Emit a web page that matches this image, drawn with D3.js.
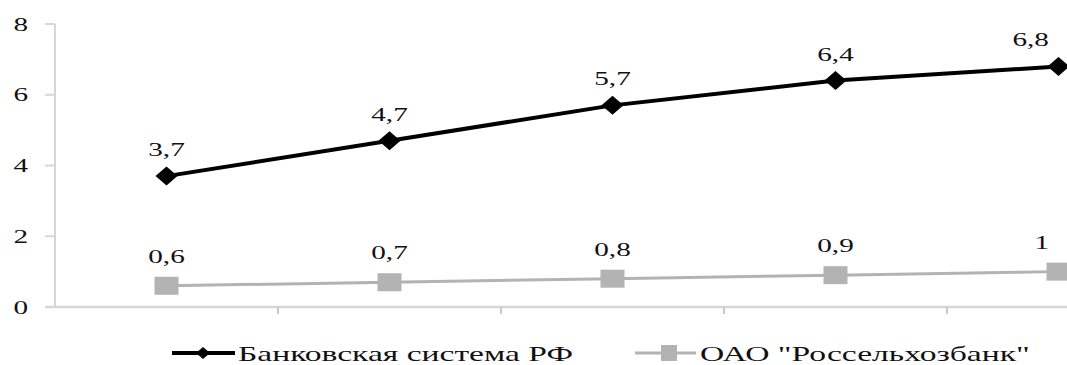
<!DOCTYPE html>
<html>
<head>
<meta charset="utf-8">
<script src="https://cdn.jsdelivr.net/npm/d3@7"></script>
<style>
  html, body { margin: 0; padding: 0; background: #fff; }
  svg { display: block; }
</style>
</head>
<body>
<svg id="chart" width="1067" height="365"></svg>
<script>
// Periods along the horizontal axis (axis labels are not shown on this chart)
const periods = ["I", "II", "III", "IV", "V"];
// Series values
const bankSystem = [3.7, 4.7, 5.7, 6.4, 6.8];
const rosselkhozbank = [0.6, 0.7, 0.8, 0.9, 1];
const seriesNames = ["Банковская система РФ", "ОАО \"Россельхозбанк\""];
const yTicks = [0, 2, 4, 6, 8];

const W = 1067, H = 365;
const svg = d3.select("#chart");
const FONT_FAMILY = "Liberation Serif";
const TEXT_COLOR = "#111";
const STRETCH = 1.5;   // glyphs are drawn wide
const LEGEND_STRETCH = 1.6;
const FONT = 19.5;

// Plot area: the last band runs past the right edge of the picture
const x = d3.scaleBand().domain(periods).range([55, 55 + 223 * periods.length]);
const y = d3.scaleLinear().domain([0, 8]).range([307, 24]);
const cx = d => x(d) + x.bandwidth() / 2;

const axisColor = "#d6d6d6";

function txt(sel) {
  return sel.attr("font-family", FONT_FAMILY).attr("fill", TEXT_COLOR);
}

// Y axis line and ticks
svg.append("line")
  .attr("x1", 55).attr("x2", 55).attr("y1", y(8)).attr("y2", y(0))
  .attr("stroke", axisColor).attr("stroke-width", 2);
svg.selectAll(".ytick").data(yTicks).enter().append("line")
  .attr("x1", 45).attr("x2", 55).attr("y1", d => y(d)).attr("y2", d => y(d))
  .attr("stroke", axisColor).attr("stroke-width", 2);
svg.selectAll(".ylab").data(yTicks).enter().append("text")
  .call(txt)
  .attr("text-anchor", "end")
  .attr("font-size", FONT)
  .attr("transform", d => `translate(28,${y(d) + 6.5}) scale(${STRETCH},1)`)
  .text(d => d);

// X axis line and ticks at band boundaries
svg.append("line")
  .attr("x1", 45).attr("x2", W).attr("y1", y(0)).attr("y2", y(0))
  .attr("stroke", axisColor).attr("stroke-width", 2.5);
svg.selectAll(".xtick").data(periods.slice(1)).enter().append("line")
  .attr("x1", d => x(d)).attr("x2", d => x(d))
  .attr("y1", y(0)).attr("y2", y(0) + 7)
  .attr("stroke", "#c8c8c8").attr("stroke-width", 2);

const line = d3.line().x((d, i) => cx(periods[i])).y(d => y(d));

// Rosselkhozbank series (grey, square markers)
const grey = "#b3b3b3";
svg.append("path").datum(rosselkhozbank)
  .attr("d", line).attr("fill", "none")
  .attr("stroke", grey).attr("stroke-width", 3);
svg.selectAll(".sq").data(rosselkhozbank).enter().append("rect")
  .attr("x", (d, i) => cx(periods[i]) - 12).attr("y", d => y(d) - 9)
  .attr("width", 24).attr("height", 18)
  .attr("fill", grey);

// Banking system series (black, diamond markers)
svg.append("path").datum(bankSystem)
  .attr("d", line).attr("fill", "none")
  .attr("stroke", "#000").attr("stroke-width", 4);
const diamond = "M0,-9.5L11,0L0,9.5L-11,0Z";
svg.selectAll(".dm").data(bankSystem).enter().append("path")
  .attr("d", diamond)
  .attr("transform", (d, i) => `translate(${cx(periods[i])},${y(d)})`)
  .attr("fill", "#000");

// Value labels above the markers, kept inside the picture
const fmt = v => String(v).replace(".", ",");
function addLabels(values, gap) {
  values.forEach((v, i) => {
    const t = svg.append("text")
      .call(txt)
      .attr("text-anchor", "middle")
      .attr("font-size", FONT)
      .text(fmt(v));
    const w = t.node().getComputedTextLength() * STRETCH;
    let px = cx(periods[i]);
    if (px + w / 2 > W - 18) px = W - 18 - w / 2;
    t.attr("transform", `translate(${px},${y(v) - gap}) scale(${STRETCH},1)`);
  });
}
addLabels(bankSystem, 20);
addLabels(rosselkhozbank, 23);

// Legend
const legY = 353;
const leg1 = svg.append("g");
leg1.append("line").attr("x1", 172).attr("x2", 235).attr("y1", legY).attr("y2", legY)
  .attr("stroke", "#000").attr("stroke-width", 4);
leg1.append("path").attr("d", "M0,-6L7,0L0,6L-7,0Z")
  .attr("transform", `translate(203,${legY})`).attr("fill", "#000");
leg1.append("text").call(txt).attr("font-size", 21)
  .attr("transform", `translate(238,${legY + 8}) scale(${LEGEND_STRETCH},1)`)
  .text(seriesNames[0]);

const leg2 = svg.append("g");
leg2.append("line").attr("x1", 635).attr("x2", 696).attr("y1", legY).attr("y2", legY)
  .attr("stroke", grey).attr("stroke-width", 3);
leg2.append("rect").attr("x", 661).attr("y", legY - 8).attr("width", 16).attr("height", 16)
  .attr("fill", grey);
leg2.append("text").call(txt).attr("font-size", 21)
  .attr("transform", `translate(700,${legY + 8}) scale(${LEGEND_STRETCH},1)`)
  .text(seriesNames[1]);
</script>
</body>
</html>
